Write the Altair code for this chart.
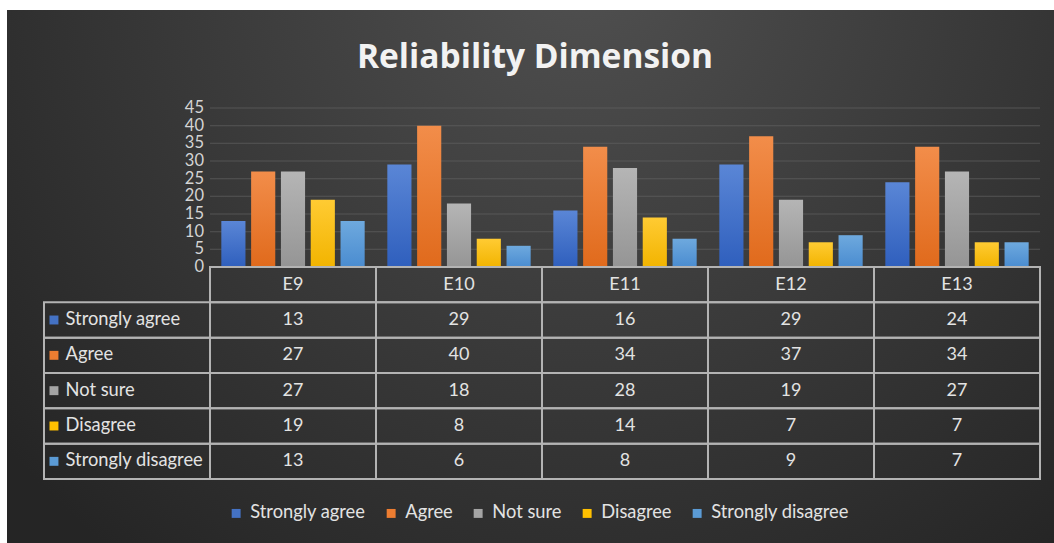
import altair as alt
import pandas as pd

# ---------------- data ----------------
title_text = "Reliability Dimension"
categories = ["E9", "E10", "E11", "E12", "E13"]
series = ["Strongly agree", "Agree", "Not sure", "Disagree", "Strongly disagree"]
strongly_agree = [13, 29, 16, 29, 24]
agree = [27, 40, 34, 37, 34]
not_sure = [27, 18, 28, 19, 27]
disagree = [19, 8, 14, 7, 7]
strongly_disagree = [13, 6, 8, 9, 7]
y_ticks = [0, 5, 10, 15, 20, 25, 30, 35, 40, 45]

# ---------------- styles ----------------
colors = ["#4472C4", "#ED7D31", "#A5A5A5", "#FFC000", "#5B9BD5"]
colors_top = ["#5a86d6", "#f28d4a", "#b5b5b5", "#ffcb33", "#6ea9de"]
colors_bottom = ["#2f5fbd", "#e06a1c", "#959595", "#f2b400", "#4a8cd0"]
FONT = "Lato"
TXT = "#e3e3e3"
LABEL_COL = "label"
HEADER_ROW = "header"
W, H = 996, 371
BAR_H = 159

values_by_series = dict(zip(series, [strongly_agree, agree, not_sure, disagree, strongly_disagree]))
bars_df = pd.DataFrame(
    [{"cat": c, "series": s, "value": v} for s in series for c, v in zip(categories, values_by_series[s])]
)

xscale = alt.Scale(domain=[LABEL_COL] + categories, paddingInner=0, paddingOuter=0)
yq = alt.Scale(domain=[0, 45], range=[BAR_H, 0], nice=False, zero=True)
yb = alt.Scale(domain=[HEADER_ROW] + series, range=[BAR_H, H], paddingInner=0, paddingOuter=0)
color_enc = alt.Color(
    "series:N",
    scale=alt.Scale(domain=series, range=colors),
    legend=alt.Legend(
        orient="none", legendX=183, legendY=396, direction="horizontal", title=None,
        symbolType="square", symbolSize=80, symbolStrokeWidth=0, symbolOpacity=1,
        labelFontSize=18.3, labelFont=FONT, labelColor=TXT, columnPadding=16, labelOffset=5,
    ),
)

# background panel (decorative)
bg = alt.Chart(pd.DataFrame({"a": [0]})).mark_rect(
    fill=alt.RadialGradient(
        gradient="radial",
        stops=[alt.GradientStop(color="#505050", offset=0), alt.GradientStop(color="#252525", offset=1)],
        x1=0.55, y1=0.2, r1=0, x2=0.55, y2=0.2, r2=0.72,
    )
).encode(x=alt.value(-37), x2=alt.value(1010), y=alt.value(-98), y2=alt.value(435))

title = alt.Chart(pd.DataFrame({"t": [title_text]})).mark_text(
    font="Open Sans", fontSize=33.5, fontWeight="bold", color="#f2f2f2", align="center", baseline="alphabetic"
).encode(x=alt.value(491), y=alt.value(-40), text="t:N")

# gridlines
grid_df = pd.DataFrame([{"cat": c, "tick": t} for t in y_ticks if t > 0 for c in categories])
grid = alt.Chart(grid_df).mark_tick(size=W / 6, thickness=1, color="#626262").encode(
    x=alt.X("cat:N", scale=xscale, axis=None),
    y=alt.Y("tick:Q", scale=yq, axis=None),
)

# bars (one layer per series for gradient fills)
bar_layers = []
for i, s in enumerate(series):
    bar_layers.append(
        alt.Chart(bars_df).transform_filter(alt.datum.series == s).mark_bar(
            fill=alt.LinearGradient(
                gradient="linear",
                stops=[alt.GradientStop(color=colors_top[i], offset=0), alt.GradientStop(color=colors_bottom[i], offset=1)],
                x1=0, x2=0, y1=0, y2=1,
            )
        ).encode(
            x=alt.X("cat:N", scale=xscale, axis=None),
            xOffset=alt.XOffset("series:N", scale=alt.Scale(domain=series, paddingInner=0.19, paddingOuter=0.38)),
            y=alt.Y("value:Q", scale=yq, axis=None),
        )
    )

# y tick labels
ticks_df = pd.DataFrame({"col": [LABEL_COL] * len(y_ticks), "tick": y_ticks})
tick_labels = alt.Chart(ticks_df).mark_text(
    font=FONT, fontSize=16.5, color="#d4d4d4", align="right", baseline="middle", dx=-6
).encode(
    x=alt.X("col:N", scale=xscale, bandPosition=1, axis=None),
    y=alt.Y("tick:Q", scale=yq, axis=None),
    text="tick:Q",
)

# table cells
cells = [{"col": c, "row": HEADER_ROW, "txt": c} for c in categories]
for s in series:
    cells.append({"col": LABEL_COL, "row": s, "txt": ""})
    for c, v in zip(categories, values_by_series[s]):
        cells.append({"col": c, "row": s, "txt": str(v)})
cells_df = pd.DataFrame(cells)

cell_rects = alt.Chart(cells_df).mark_rect(fill="transparent", stroke="#b3b3b3", strokeWidth=2).encode(
    x=alt.X("col:N", scale=xscale, axis=None),
    y=alt.Y("row:N", scale=yb, axis=None),
)
cell_text = alt.Chart(cells_df).transform_filter(alt.datum.txt != "").mark_text(
    font=FONT, fontSize=18, color=TXT, align="center", baseline="middle"
).encode(
    x=alt.X("col:N", scale=xscale, axis=None),
    y=alt.Y("row:N", scale=yb, axis=None),
    text="txt:N",
)

rows_df = pd.DataFrame({"col": [LABEL_COL] * len(series), "series": series})
row_squares = alt.Chart(rows_df).mark_square(size=80, opacity=1).encode(
    x=alt.X("col:N", scale=xscale, bandPosition=0.06, axis=None),
    y=alt.Y("series:N", scale=yb, axis=None),
    color=color_enc,
)
row_text = alt.Chart(rows_df).mark_text(
    font=FONT, fontSize=18.3, color=TXT, align="left", baseline="middle"
).encode(
    x=alt.X("col:N", scale=xscale, bandPosition=0.13, axis=None),
    y=alt.Y("series:N", scale=yb, axis=None),
    text="series:N",
)

chart = alt.layer(
    bg, title, grid, *bar_layers, tick_labels, cell_rects, cell_text, row_squares, row_text
).resolve_scale(y="independent").properties(
    width=W, height=H,
    autosize=alt.AutoSizeParams(type="none"),
    padding={"left": 44, "top": 108, "right": 14, "bottom": 64},
    background="white",
).configure_view(stroke=None)

chart.save("out.html", embed_options={"renderer": "svg", "actions": False})
